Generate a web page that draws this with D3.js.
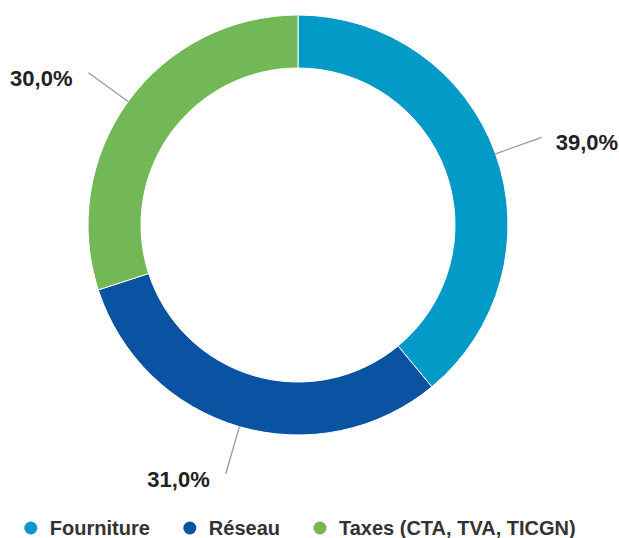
<!DOCTYPE html>
<html>
<head>
<meta charset="utf-8">
<script src="https://cdn.jsdelivr.net/npm/d3@7/dist/d3.min.js"></script>
<style>
  html, body { margin: 0; padding: 0; background: #ffffff; }
  svg { display: block; font-family: "Liberation Sans", Arial, Helvetica, sans-serif; }
</style>
</head>
<body>
<svg id="chart" width="619" height="538"></svg>
<script>
// Répartition du prix : parts en pourcentage
const categories = ["Fourniture", "Réseau", "Taxes (CTA, TVA, TICGN)"];
const values = [39.0, 31.0, 30.0];
const colors = ["#049ac8", "#0a53a2", "#73b857"];

const width = 619, height = 538;
const cx = 298, cy = 225;
const outerR = 210, innerR = 157;
const connectorLen = 49;

const svg = d3.select("#chart");
const fmt = v => d3.format(".1f")(v).replace(".", ",") + "%";

const data = categories.map((c, i) => ({ name: c, value: values[i], color: colors[i] }));

const pie = d3.pie().value(d => d.value).sort(null);
const arcs = pie(data);
const arc = d3.arc().innerRadius(innerR).outerRadius(outerR);

const g = svg.append("g").attr("transform", `translate(${cx},${cy})`);

g.selectAll("path.slice")
  .data(arcs)
  .join("path")
  .attr("class", "slice")
  .attr("d", arc)
  .attr("fill", d => d.data.color)
  .attr("stroke", "#ffffff")
  .attr("stroke-width", 1);

// Connecteurs et étiquettes
const polar = (r, a) => [r * Math.sin(a), -r * Math.cos(a)];

arcs.forEach(d => {
  const mid = (d.startAngle + d.endAngle) / 2;
  const p0 = polar(outerR, mid);
  const p1 = polar(outerR + connectorLen, mid);
  const right = Math.sin(mid) >= 0;
  g.append("line")
    .attr("x1", p0[0]).attr("y1", p0[1])
    .attr("x2", p1[0]).attr("y2", p1[1])
    .attr("stroke", "#9896ab")
    .attr("stroke-width", 1.3);
  g.append("text")
    .attr("x", p1[0] + (right ? 14 : -16))
    .attr("y", p1[1] + 13)
    .attr("text-anchor", right ? "start" : "end")
    .attr("font-size", 22)
    .attr("font-weight", "bold")
    .attr("fill", "#222222")
    .text(fmt(d.data.value));
});

// Légende centrée sous l'anneau
const legend = svg.append("g");
const items = legend.selectAll("g.item")
  .data(data)
  .join("g")
  .attr("class", "item");

items.append("circle")
  .attr("r", 6.5)
  .attr("cx", 0)
  .attr("cy", 0)
  .attr("fill", d => d.color);

items.append("text")
  .attr("x", 19)
  .attr("y", 6.8)
  .attr("font-size", 20)
  .attr("font-weight", "bold")
  .attr("fill", "#333333")
  .text(d => d.name);

let xPos = 0;
const gapItems = 40;
items.each(function() {
  const w = d3.select(this).select("text").node().getComputedTextLength();
  d3.select(this).attr("transform", `translate(${xPos},0)`);
  xPos += 19 + w + gapItems;
});
const totalW = xPos - gapItems + 6.5;
legend.attr("transform", `translate(${300 - totalW / 2 + 6.5},528)`);
</script>
</body>
</html>
